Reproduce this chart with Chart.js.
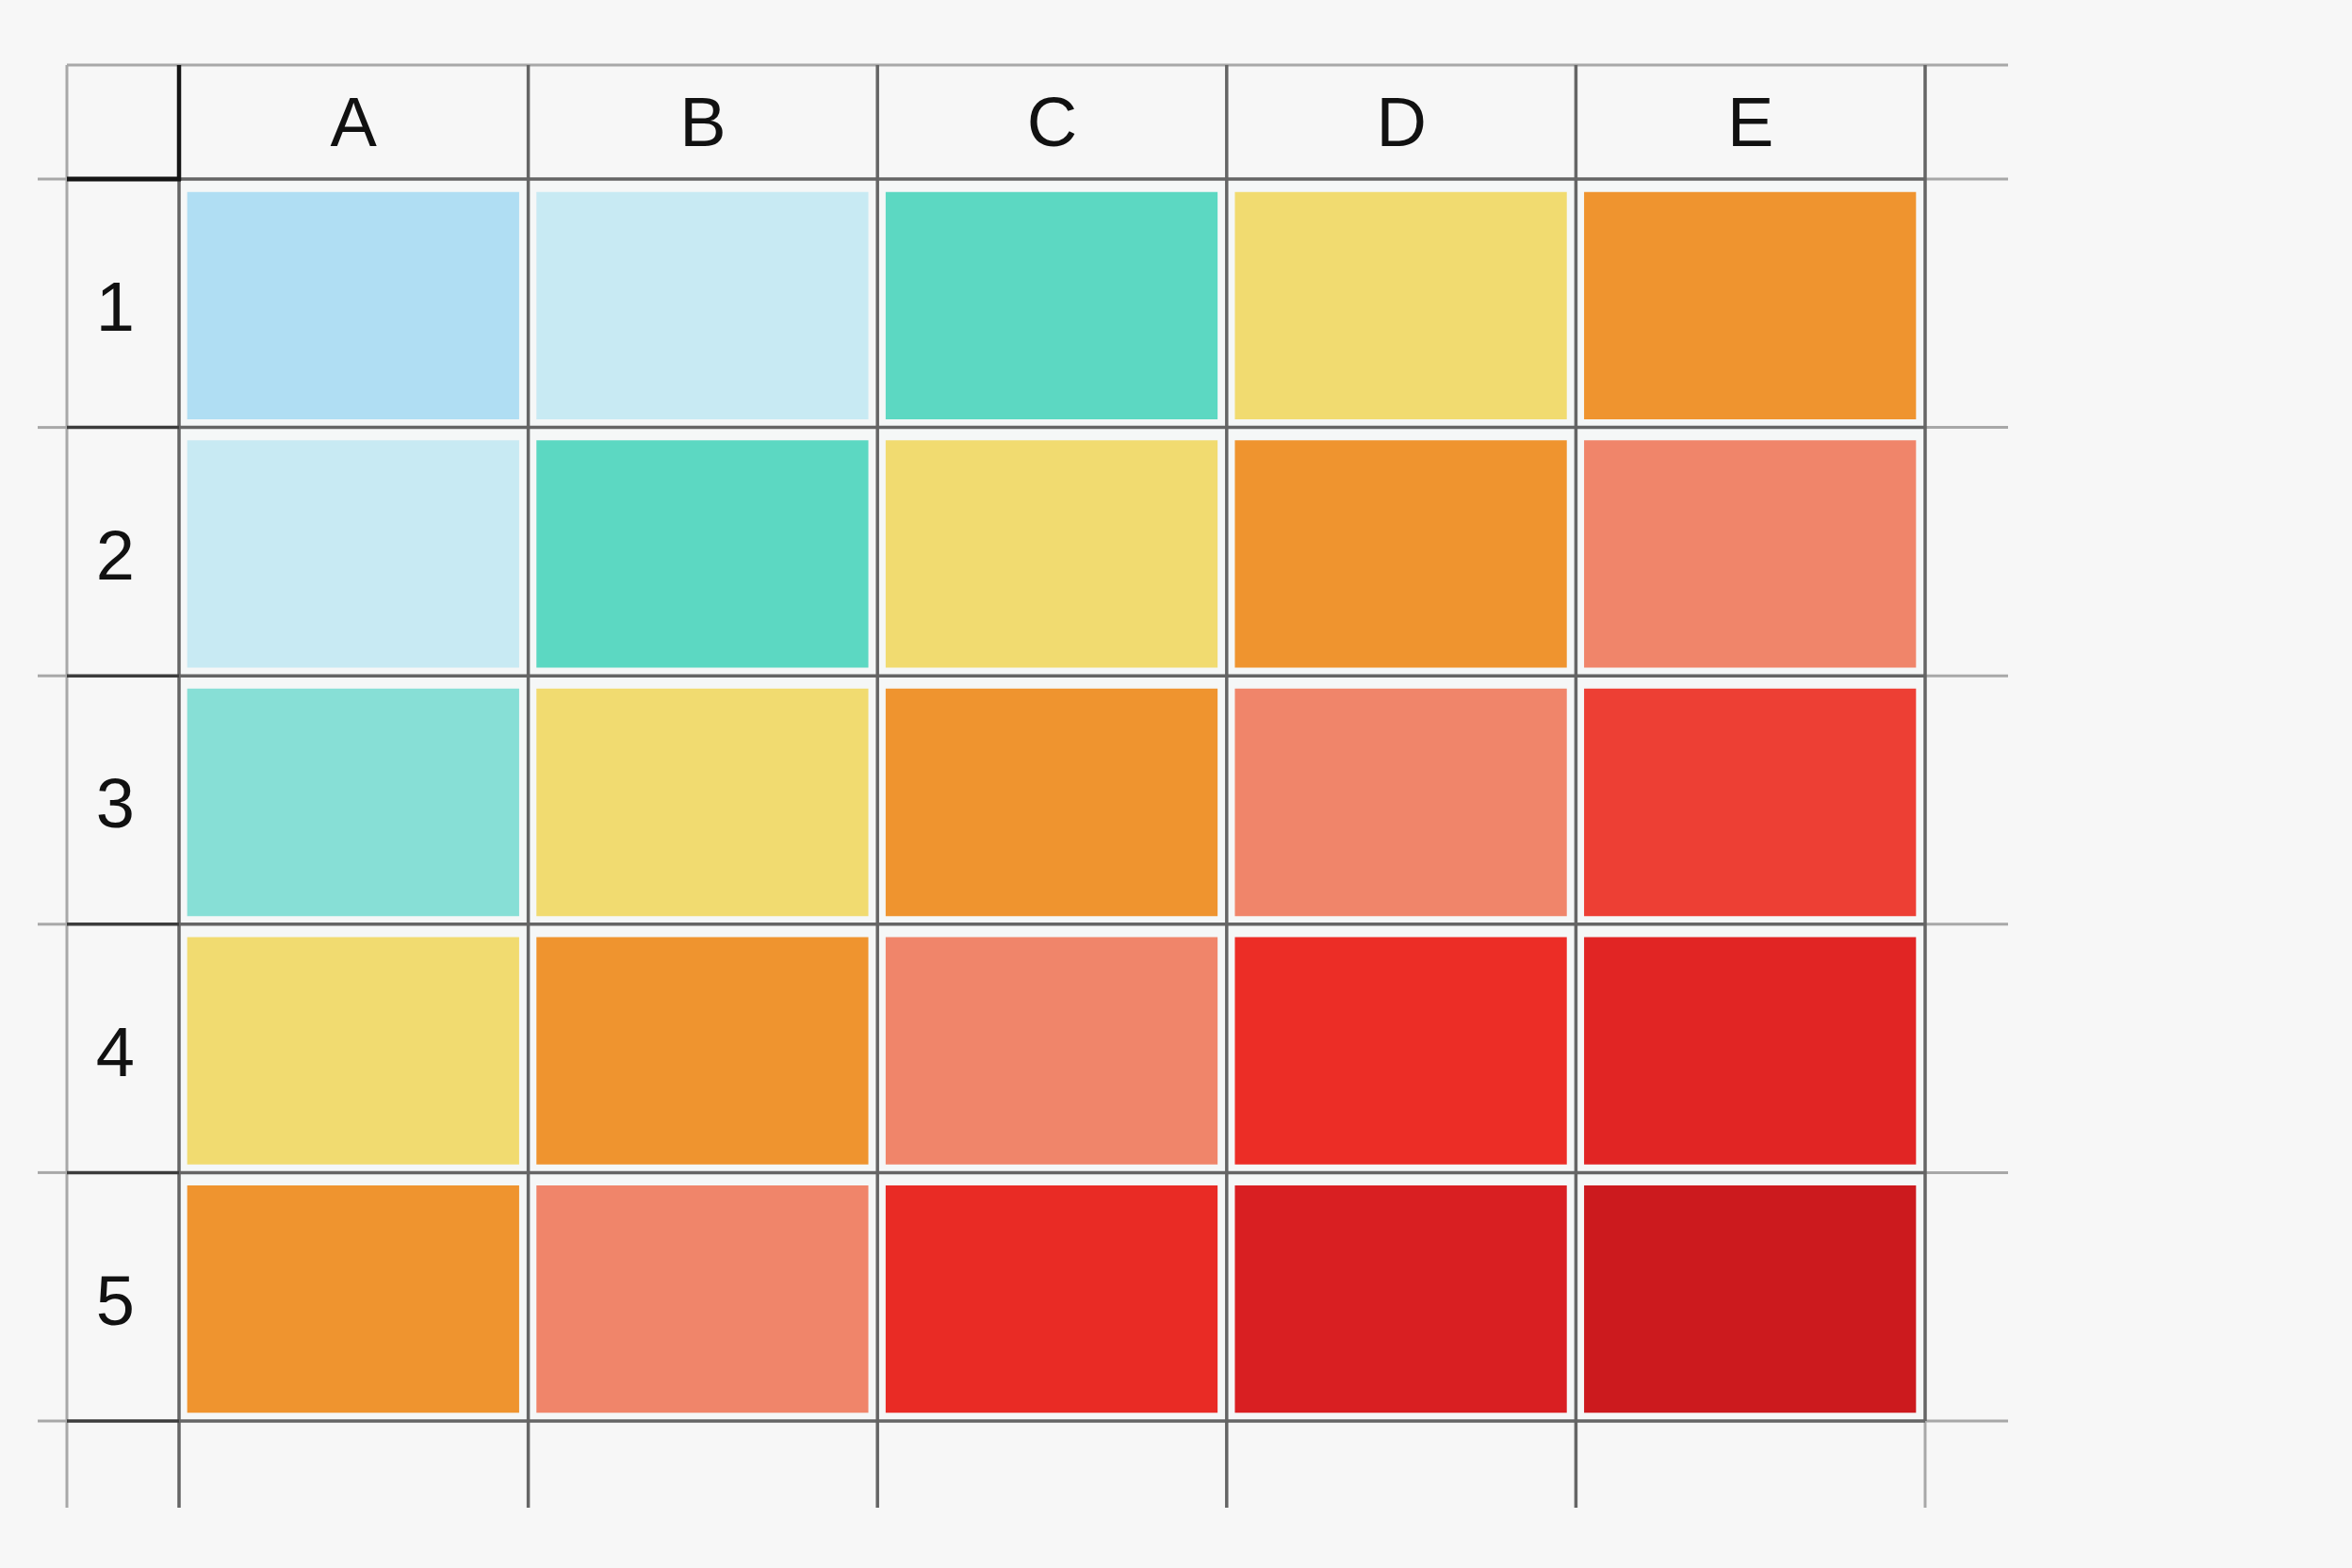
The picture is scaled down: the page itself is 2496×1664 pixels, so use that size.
<!DOCTYPE html>
<html>
<head>
<meta charset="utf-8">
<title>Risk grid</title>
<script src="https://cdn.jsdelivr.net/npm/chart.js@4.4.1/dist/chart.umd.min.js"></script>
<style>
    html, body { margin: 0; padding: 0; background: #f7f7f7; }
    #wrap { width: 2496px; height: 1664px; position: relative; }
</style>
</head>
<body>
<div id="wrap"><canvas id="gridChart"></canvas></div>
<script>
// columns across the top, rows down the side
const columnLabels = ['A', 'B', 'C', 'D', 'E'];
const rowLabels = ['1', '2', '3', '4', '5'];

// score of each cell, one array per row
const row1Scores = [1, 2, 3, 4, 5];
const row2Scores = [2, 3, 4, 5, 6];
const row3Scores = [2.6, 4, 5, 6, 6.8];
const row4Scores = [4, 5, 6, 7, 7.6];
const row5Scores = [5, 6, 7.15, 8, 9];
const rowScores = [row1Scores, row2Scores, row3Scores, row4Scores, row5Scores];

// colour scale: score -> colour
const scaleStops = [
    [1, '#b0def3'],
    [2, '#c8eaf3'],
    [3, '#5cd8c2'],
    [4, '#f1db70'],
    [5, '#ef942f'],
    [6, '#f0856a'],
    [7, '#ec2d26'],
    [8, '#d91f22'],
    [9, '#cc1a1e']
];

function hexToRgb(hex) {
    const n = parseInt(hex.slice(1), 16);
    return [(n >> 16) & 255, (n >> 8) & 255, n & 255];
}

function colorFor(v) {
    for (let i = 0; i < scaleStops.length - 1; i++) {
        const [v0, c0] = scaleStops[i];
        const [v1, c1] = scaleStops[i + 1];
        if (v >= v0 && v <= v1) {
            const t = (v - v0) / (v1 - v0);
            const a = hexToRgb(c0), b = hexToRgb(c1);
            const rgb = a.map((x, k) => Math.round(x + (b[k] - x) * t));
            return 'rgb(' + rgb.join(',') + ')';
        }
    }
    return scaleStops[scaleStops.length - 1][1];
}

// draws the spreadsheet-like lines over the cells
const sheetLines = {
    id: 'sheetLines',
    afterDatasetsDraw(chart) {
        const { ctx, chartArea: area } = chart;
        const colW = (area.right - area.left) / columnLabels.length;
        const rowH = (area.bottom - area.top) / rowLabels.length;
        const labelLeft = area.left - 119;
        const headTop = area.top - 121;
        const farRight = area.right + 88;
        const farBottom = area.bottom + 92;
        const stubLeft = area.left - 150;

        function line(x1, y1, x2, y2, color, width) {
            ctx.beginPath();
            ctx.moveTo(x1, y1);
            ctx.lineTo(x2, y2);
            ctx.strokeStyle = color;
            ctx.lineWidth = width;
            ctx.stroke();
        }

        ctx.save();
        ctx.lineCap = 'butt';

        const light = '#a8a8a8';
        const dark = '#656565';

        // outer light lines
        line(labelLeft, headTop, farRight, headTop, light, 3);
        line(labelLeft, headTop, labelLeft, farBottom, light, 3);
        for (let r = 0; r <= rowLabels.length; r++) {
            const y = area.top + r * rowH;
            line(stubLeft, y, labelLeft, y, light, 3);
            line(area.right, y, farRight, y, light, 3);
        }
        line(area.right, area.bottom, area.right, farBottom, light, 3);

        // column dividers
        for (let c = 0; c <= columnLabels.length; c++) {
            const x = area.left + c * colW;
            const yEnd = c === columnLabels.length ? area.bottom : farBottom;
            line(x, c === 0 ? area.top : headTop, x, yEnd, dark, 3.5);
        }
        // row dividers
        for (let r = 0; r <= rowLabels.length; r++) {
            const y = area.top + r * rowH;
            line(area.left, y, area.right, y, dark, 3.5);
            if (r > 0) line(labelLeft, y, area.left, y, '#3c3c3c', 3.5);
        }

        // heavy corner lines
        line(labelLeft, area.top, area.left + 2, area.top, '#151515', 5);
        line(area.left, headTop, area.left, area.top + 2, '#151515', 4.5);

        ctx.restore();
    }
};

document.addEventListener('DOMContentLoaded', function () {
    const ctx = document.getElementById('gridChart');

    Chart.defaults.font.family = "'Liberation Sans', Arial, sans-serif";

    const datasets = rowScores.map(function (scores, r) {
        return {
            label: 'Row ' + rowLabels[r],
            data: scores.map(() => 1),
            scores: scores,
            backgroundColor: scores.map(colorFor),
            borderColor: '#f5f7f7',
            borderWidth: { top: 14, right: 10, bottom: 9, left: 9 },
            borderSkipped: false,
            barPercentage: 1,
            categoryPercentage: 1
        };
    });

    new Chart(ctx.getContext('2d'), {
        type: 'bar',
        data: {
            labels: columnLabels,
            datasets: datasets
        },
        options: {
            responsive: true,
            maintainAspectRatio: false,
            devicePixelRatio: 1,
            animation: false,
            layout: {
                padding: { left: 0, right: 453, top: 0, bottom: 156 }
            },
            plugins: {
                legend: { display: false },
                tooltip: {
                    callbacks: {
                        label: function (context) {
                            return context.dataset.label + ': ' + context.dataset.scores[context.dataIndex];
                        }
                    }
                }
            },
            scales: {
                x: {
                    position: 'top',
                    stacked: true,
                    grid: { display: false },
                    border: { display: false },
                    ticks: {
                        color: '#111111',
                        font: { size: 74 },
                        padding: 3
                    },
                    afterFit: function (scale) { scale.height = 190; }
                },
                y: {
                    display: false,
                    stacked: true,
                    reverse: true,
                    min: 0,
                    max: 5
                },
                rows: {
                    type: 'category',
                    labels: rowLabels,
                    position: 'left',
                    offset: true,
                    grid: { display: false },
                    border: { display: false },
                    ticks: {
                        color: '#111111',
                        font: { size: 74 },
                        padding: 39,
                        labelOffset: 9
                    },
                    afterFit: function (scale) { scale.width = 190; }
                }
            }
        },
        plugins: [sheetLines]
    });
});
</script>
</body>
</html>
